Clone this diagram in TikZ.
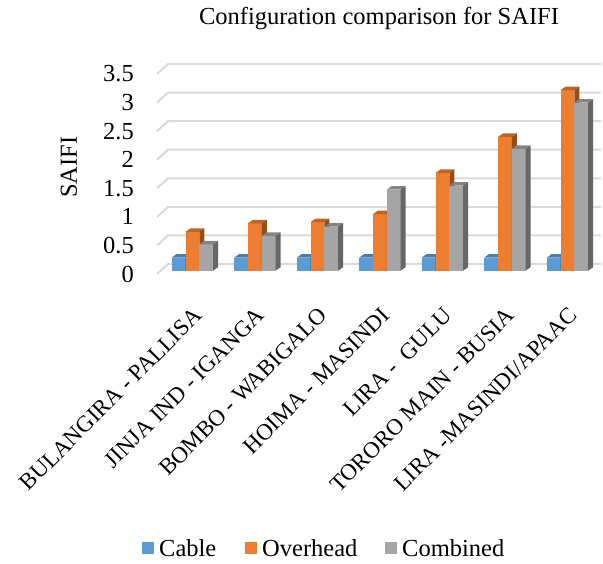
\documentclass[tikz,border=0pt]{standalone}
\usepackage{fontspec}
\setmainfont{Liberation Serif}
\usetikzlibrary{calc}
\definecolor{cable}{HTML}{5B9BD5}
\definecolor{overhead}{HTML}{ED7D31}
\definecolor{combined}{HTML}{A5A5A5}
\definecolor{gridgray}{HTML}{D9D9D9}
\tikzset{
  font=\fontsize{24.5}{28}\selectfont,
  every node/.style={inner sep=0pt},
  % back wall lines
  gridline/.style={draw=gridgray, line width=2pt},
  % value labels
  tick/.style={anchor=east},
  % category labels
  cat/.style={anchor=north east, rotate=45, font=\fontsize{23}{27}\selectfont},
  % legend key
  key/.style={minimum size=12pt},
}
% 3d column: left x, value, colour
\newcommand{\colbar}[3]{%
  \fill[#3] (#1,270.7) rectangle ({#1+13.8},{270.7-57.14*#2});
  \fill[#3!80!black] (#1,{270.7-57.14*#2}) -- ++(5,-3.5) -- ++(13.8,0)
    -- ++(-5,3.5) -- cycle;
  \fill[#3!62!black] ({#1+13.8},270.7) -- ++(5,-3.5) -- ++(0,{-57.14*#2})
    -- ++(-5,3.5) -- cycle;
}

\begin{document}
\begin{tikzpicture}[x=1pt, y=-1pt]
  \useasboundingbox (0,0) rectangle (603,564);

  \node (title) at (379,19) {Configuration comparison for SAIFI};
  \node[rotate=90] (ylabel) at (69,167) {SAIFI};

  % grid and value axis
  \foreach \v [count=\k from 0] in {0,0.5,1,1.5,2,2.5,3,3.5} {
    \pgfmathsetmacro\yb{264-57.14*\v}
    \draw[gridline] (157,{\yb+10}) -- (168,\yb) -- (601,\yb);
    \node[tick] (tick\k) at (134,{\yb+10}) {\v};
  }

  % columns
  \foreach \c/\o/\g [count=\i] in {0.23/0.68/0.46, 0.23/0.83/0.61,
      0.23/0.85/0.77, 0.23/0.99/1.42, 0.23/1.71/1.49, 0.23/2.34/2.13,
      0.23/3.16/2.94} {
    \pgfmathsetmacro\xl{171.7+62.5*(\i-1)}
    \colbar{\xl}{\c}{cable}
    \colbar{\xl+13.8}{\o}{overhead}
    \colbar{\xl+27.6}{\g}{combined}
  }

  % categories
  \foreach \name [count=\i] in {BULANGIRA - PALLISA, JINJA IND - IGANGA,
      BOMBO - WABIGALO, HOIMA - MASINDI, LIRA - \ GULU,
      TORORO MAIN - BUSIA, LIRA -MASINDI/APAAC}
    \node[cat] (cat\i) at ({192.4+62.5*(\i-1)},306) {\name};

  % legend
  \node[key, fill=cable] (kcable) at (148,548) {};
  \node[anchor=west] (lcable) at (159,548) {Cable};
  \node[key, fill=overhead] (koverhead) at (251,548) {};
  \node[anchor=west] (loverhead) at (262,548) {Overhead};
  \node[key, fill=combined] (kcombined) at (391,548) {};
  \node[anchor=west] (lcombined) at (402,548) {Combined};
\end{tikzpicture}
\end{document}
